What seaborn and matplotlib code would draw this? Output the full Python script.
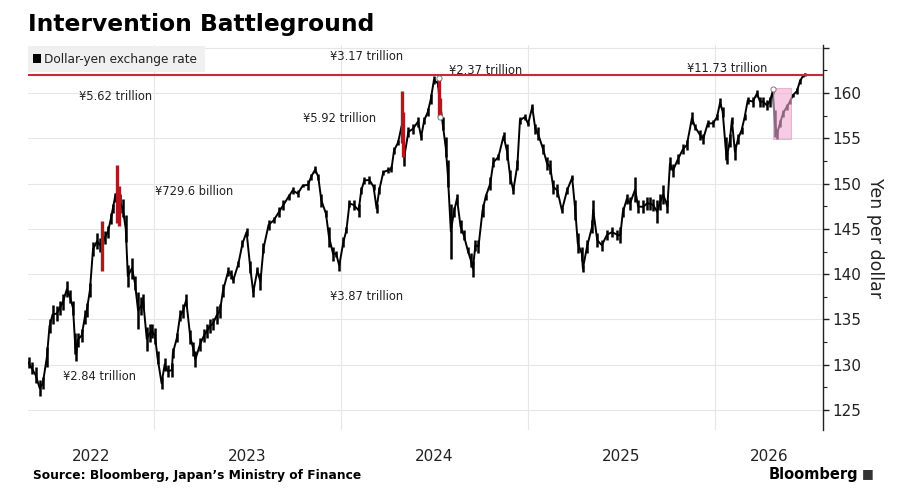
import matplotlib
matplotlib.use("Agg")
import matplotlib.pyplot as plt
import matplotlib.dates as mdates
from matplotlib.patches import Rectangle
from matplotlib.ticker import FixedLocator, FixedFormatter
import numpy as np
import pandas as pd
import seaborn as sns

# ---------------- data ----------------
dates = [
    "2022-05-01", "2022-05-07", "2022-05-15", "2022-05-23", "2022-05-29", "2022-06-06",
    "2022-06-11", "2022-06-17", "2022-06-25", "2022-07-01", "2022-07-07", "2022-07-15",
    "2022-07-21", "2022-07-27", "2022-07-31", "2022-08-02", "2022-08-05", "2022-08-13",
    "2022-08-19", "2022-08-23", "2022-08-29", "2022-09-04", "2022-09-12", "2022-09-17",
    "2022-09-22", "2022-09-27", "2022-10-03", "2022-10-09", "2022-10-13", "2022-10-17",
    "2022-10-21", "2022-10-27", "2022-11-01", "2022-11-07", "2022-11-11", "2022-11-19",
    "2022-11-25", "2022-12-01", "2022-12-07", "2022-12-11", "2022-12-18", "2022-12-24",
    "2022-12-28",
    "2023-01-03", "2023-01-08", "2023-01-16", "2023-01-22", "2023-01-28", "2023-02-05",
    "2023-02-07", "2023-02-15", "2023-02-21", "2023-02-27", "2023-03-05", "2023-03-13",
    "2023-03-19", "2023-03-23", "2023-04-01", "2023-04-09", "2023-04-15", "2023-04-20",
    "2023-04-26", "2023-05-04", "2023-05-10", "2023-05-16", "2023-05-26", "2023-06-01",
    "2023-06-05", "2023-06-15", "2023-06-23", "2023-07-01", "2023-07-08", "2023-07-14",
    "2023-07-22", "2023-07-28", "2023-08-03", "2023-08-13", "2023-08-23", "2023-09-02",
    "2023-09-11", "2023-09-21", "2023-09-29", "2023-10-09", "2023-10-19", "2023-10-29",
    "2023-11-04", "2023-11-12", "2023-11-18", "2023-11-24", "2023-12-03", "2023-12-09",
    "2023-12-17", "2023-12-23", "2023-12-29",
    "2024-01-06", "2024-01-12", "2024-01-18", "2024-01-26", "2024-02-05", "2024-02-10",
    "2024-02-16", "2024-02-26", "2024-03-05", "2024-03-11", "2024-03-16", "2024-03-24",
    "2024-04-03", "2024-04-09", "2024-04-14", "2024-04-22", "2024-04-29", "2024-05-04",
    "2024-05-12", "2024-05-21", "2024-05-31", "2024-06-06", "2024-06-12", "2024-06-19",
    "2024-06-25", "2024-07-01", "2024-07-09", "2024-07-11", "2024-07-18", "2024-07-24",
    "2024-07-28", "2024-08-03", "2024-08-09", "2024-08-15", "2024-08-22", "2024-08-28",
    "2024-09-05", "2024-09-11", "2024-09-15", "2024-09-20", "2024-09-26", "2024-10-04",
    "2024-10-10", "2024-10-19", "2024-10-25", "2024-11-04", "2024-11-14", "2024-11-21",
    "2024-11-27", "2024-12-03", "2024-12-11", "2024-12-16", "2024-12-26",
    "2025-01-01", "2025-01-09", "2025-01-15", "2025-01-20", "2025-01-30", "2025-02-07",
    "2025-02-13", "2025-02-19", "2025-02-27", "2025-03-08", "2025-03-18", "2025-03-28",
    "2025-04-03", "2025-04-08", "2025-04-16", "2025-04-18", "2025-04-26", "2025-05-06",
    "2025-05-08", "2025-05-16", "2025-05-25", "2025-06-04", "2025-06-14", "2025-06-24",
    "2025-06-30", "2025-07-05", "2025-07-13", "2025-07-19", "2025-07-29", "2025-08-04",
    "2025-08-14", "2025-08-21", "2025-08-27", "2025-09-02", "2025-09-10", "2025-09-16",
    "2025-09-22", "2025-09-30", "2025-10-05", "2025-10-11", "2025-10-21", "2025-10-31",
    "2025-11-07", "2025-11-17", "2025-11-23", "2025-12-03", "2025-12-09", "2025-12-18",
    "2025-12-28",
    "2026-01-05", "2026-01-11", "2026-01-16", "2026-01-22", "2026-01-24", "2026-01-30",
    "2026-02-03", "2026-02-09", "2026-02-15", "2026-02-22", "2026-02-28", "2026-03-06",
    "2026-03-16", "2026-03-24", "2026-03-30", "2026-04-05", "2026-04-12", "2026-04-18",
    "2026-04-24", "2026-04-28", "2026-05-02", "2026-05-08", "2026-05-14", "2026-05-21",
    "2026-05-27", "2026-06-02", "2026-06-10", "2026-06-16", "2026-06-22", "2026-06-26",
]
low = [
    129.6, 129.0, 128.0, 126.5, 127.3, 129.8, 133.5, 134.5, 134.8, 135.5, 136.0, 137.5,
    136.8, 135.5, 131.2, 130.4, 132.0, 132.5, 134.5, 135.3, 137.5, 142.0, 142.8, 142.5,
    141.0, 143.3, 144.0, 145.5, 146.8, 148.0, 146.5, 146.8, 146.3, 143.5, 138.6, 139.5,
    138.2, 134.0, 135.5, 136.3, 131.5, 132.5, 133.0,
    132.3, 130.1, 127.3, 129.3, 128.6, 128.6, 130.8, 132.5, 134.8, 135.2, 136.5, 132.3,
    131.0, 129.7, 131.5, 132.5, 133.0, 133.5, 133.8, 134.5, 135.2, 137.5, 139.8, 139.5,
    139.0, 140.8, 143.0, 144.2, 140.1, 137.5, 140.0, 138.2, 142.3, 144.9, 145.6, 146.3,
    147.1, 148.2, 148.9, 148.5, 149.6, 149.3, 150.4, 151.2, 150.4, 147.4, 146.3, 143.0,
    141.5, 141.9, 140.4,
    143.0, 144.5, 147.4, 147.1, 146.3, 148.9, 150.0, 150.0, 149.3, 146.7, 148.9, 151.0,
    151.2, 151.3, 153.3, 154.3, 154.8, 151.9, 155.1, 155.5, 156.3, 154.8, 156.6, 157.5,
    158.8, 161.0, 160.7, 158.5, 155.9, 152.9, 149.6, 141.7, 146.3, 147.8, 144.5, 143.8,
    142.3, 140.8, 139.7, 142.6, 142.3, 146.3, 148.2, 149.3, 151.8, 152.6, 154.8, 152.6,
    150.0, 148.9, 151.5, 156.6, 157.0,
    156.4, 158.1, 155.5, 154.8, 153.3, 151.5, 151.1, 148.9, 148.5, 146.7, 148.9, 150.4,
    146.0, 142.3, 141.5, 140.2, 142.3, 144.5, 146.0, 143.0, 142.6, 143.8, 144.1, 143.8,
    143.4, 146.3, 147.8, 147.1, 148.0, 146.7, 146.7, 147.1, 147.1, 147.0, 145.6, 147.1,
    147.8, 146.7, 151.5, 150.7, 152.2, 153.3, 153.7, 156.6, 155.9, 154.8, 154.4, 156.3,
    156.3,
    157.0, 158.5, 157.4, 152.6, 152.2, 154.0, 156.6, 152.6, 154.4, 155.5, 157.0, 158.8,
    158.5, 159.6, 158.5, 158.5, 158.1, 158.5, 159.9, 155.1, 154.9, 156.3, 157.4, 158.1,
    158.8, 159.6, 159.9, 161.0, 161.8, 161.9,
]
high = [
    130.9, 130.3, 129.7, 128.3, 128.6, 132.0, 135.0, 136.6, 136.5, 137.0, 137.8, 139.2,
    138.2, 137.0, 133.5, 132.0, 133.5, 134.0, 136.0, 136.8, 139.0, 143.5, 144.5, 144.0,
    145.5, 144.8, 145.3, 146.8, 147.8, 149.0, 151.5, 148.8, 148.3, 146.5, 141.0, 141.8,
    139.8, 138.0, 137.5, 137.8, 134.2, 134.5, 134.5,
    134.1, 131.5, 128.6, 130.8, 130.0, 130.2, 131.8, 133.5, 136.0, 136.7, 137.8, 133.8,
    132.5, 131.5, 133.0, 134.0, 134.5, 135.0, 135.2, 136.5, 136.7, 138.9, 140.8, 140.5,
    139.7, 141.5, 143.8, 145.1, 141.5, 138.5, 140.8, 140.1, 143.4, 146.0, 146.3, 147.4,
    148.2, 148.9, 149.6, 149.3, 150.0, 150.4, 151.1, 151.9, 151.1, 148.9, 147.1, 145.2,
    143.0, 142.6, 141.5,
    144.1, 145.2, 148.2, 148.2, 147.8, 149.6, 150.7, 150.8, 150.0, 147.8, 149.6, 151.5,
    151.8, 151.9, 154.0, 154.8, 158.0, 154.0, 156.3, 156.6, 157.4, 155.5, 157.4, 158.3,
    159.9, 161.9, 161.4, 161.0, 157.4, 155.1, 152.6, 147.8, 147.4, 148.9, 146.0, 144.9,
    143.0, 142.3, 141.5, 143.8, 143.8, 147.8, 148.9, 150.7, 152.9, 153.3, 155.7, 154.4,
    151.5, 149.6, 152.6, 157.4, 157.7,
    156.8, 158.8, 156.6, 156.3, 154.4, 152.9, 152.6, 150.4, 150.0, 147.4, 149.6, 150.9,
    148.2, 144.5, 143.0, 141.0, 143.8, 146.0, 148.2, 144.5, 143.8, 144.9, 145.2, 144.9,
    145.2, 147.4, 148.9, 148.5, 150.7, 148.2, 148.2, 148.5, 148.5, 148.3, 148.2, 148.9,
    149.8, 148.2, 152.9, 152.2, 153.3, 154.4, 154.8, 157.9, 156.6, 155.9, 155.5, 157.0,
    157.0,
    157.7, 159.4, 158.5, 155.1, 153.5, 155.5, 157.4, 154.4, 155.5, 156.3, 157.7, 159.6,
    159.6, 160.3, 159.6, 159.6, 159.2, 159.6, 160.5, 158.1, 156.0, 157.0, 158.1, 158.8,
    159.2, 159.9, 160.5, 161.6, 162.0, 162.2,
]

# Intervention days (highlighted in red)
interv_dates = ["2022-09-22", "2022-10-21", "2022-10-24", "2024-04-29", "2024-05-01",
                "2024-07-11", "2024-07-12"]
interv_low = [140.4, 145.6, 145.3, 154.5, 152.9, 157.4, 157.2]
interv_high = [145.9, 152.0, 149.7, 160.2, 157.9, 161.8, 159.4]

# small hollow markers at intervention tips
mark_dates = ["2024-07-11", "2024-07-13", "2026-04-24"]
mark_price = [161.7, 157.4, 160.4]

# Intervention amount labels: (text, anchor date, price level)
ann_text = ["¥5.62 trillion", "¥729.6 billion", "¥2.84 trillion", "¥3.17 trillion",
            "¥2.37 trillion", "¥5.92 trillion", "¥3.87 trillion", "¥11.73 trillion"]
ann_date = ["2022-08-08", "2023-01-03", "2022-07-07", "2023-12-10",
            "2024-07-30", "2023-10-19", "2023-12-10", "2025-11-08"]
ann_price = [159.6, 149.1, 128.7, 164.0, 162.5, 157.2, 137.5, 162.75]

record_level = 162.0
box_dates = ["2026-04-24", "2026-05-29"]
box_prices = [154.9, 160.6]

year_labels = ["2022", "2023", "2024", "2025", "2026"]
y_ticks = [125, 130, 135, 140, 145, 150, 155, 160, 165]
x_range = ["2022-04-30", "2026-07-31"]
y_range = [122.8, 165.3]

# ---------------- figure ----------------
sns.set_theme(style="white")
plt.rcParams["font.family"] = ["DejaVu Sans"]

df = pd.DataFrame({"date": pd.to_datetime(dates), "low": low, "high": high})
df["mid"] = (df["low"] + df["high"]) / 2
iv = pd.DataFrame({"date": pd.to_datetime(interv_dates), "low": interv_low, "high": interv_high})
mk = pd.DataFrame({"date": pd.to_datetime(mark_dates), "price": mark_price})

fig = plt.figure(figsize=(9, 5), dpi=100)
ax = fig.add_axes([28 / 900, 1 - 430 / 500, (823 - 28) / 900, (430 - 45) / 500])

grid_c = "#e6e6e6"
for yv in y_ticks:
    ax.axhline(yv, color=grid_c, lw=0.8, zorder=0)
for yr in [2023, 2024, 2025, 2026]:
    ax.axvline(pd.Timestamp(f"{yr}-01-01"), color=grid_c, lw=0.8, zorder=0)

# price path
ax.vlines(df["date"], df["low"], df["high"], color="black", lw=1.8, zorder=2)
sns.lineplot(data=df, x="date", y="mid", ax=ax, color="black", lw=1.4, zorder=2)
ax.vlines(iv["date"], iv["low"], iv["high"], color="#b3161d", lw=2.4, zorder=3)

ax.axhline(record_level, color="#c62a35", lw=1.5, zorder=4)
sns.scatterplot(data=mk, x="date", y="price", ax=ax, s=14, color="white",
                edgecolor="#666666", linewidth=0.6, zorder=6, legend=False)

bx0 = mdates.date2num(pd.Timestamp(box_dates[0]))
bx1 = mdates.date2num(pd.Timestamp(box_dates[1]))
ax.add_patch(Rectangle((bx0, box_prices[0]), bx1 - bx0, box_prices[1] - box_prices[0],
                       facecolor="#f2a9d2", edgecolor="#e58cc0", lw=0.8, alpha=0.6, zorder=5))

for t, d, p in zip(ann_text, ann_date, ann_price):
    ax.text(pd.Timestamp(d), p, t, fontsize=8.3, color="#222222", ha="left", va="center", zorder=7)

ax.set_xlim(pd.Timestamp(x_range[0]), pd.Timestamp(x_range[1]))
ax.set_ylim(*y_range)

# y axis on the right
ax.yaxis.tick_right()
ax.yaxis.set_label_position("right")
ax.set_yticks(y_ticks)
ax.set_yticklabels([str(v) if v < 165 else "" for v in y_ticks])
ax.yaxis.set_minor_locator(FixedLocator([v + 2.5 for v in y_ticks]))
ax.tick_params(axis="y", which="major", direction="out", length=4, width=1, color="#222222",
               labelsize=11, labelcolor="#222222", pad=3, right=True, left=False)
ax.tick_params(axis="y", which="minor", direction="out", length=3, width=0.8, color="#222222",
               right=True, left=False)
ax.set_ylabel("Yen per dollar", fontsize=12.5, color="#222222", rotation=270, labelpad=16)
ax.set_xlabel("")

# x axis: year labels centred on visible part of each year
xl0, xl1 = ax.get_xlim()
bounds = [xl0] + [mdates.date2num(pd.Timestamp(f"{y}-01-01")) for y in (2023, 2024, 2025, 2026)] + [xl1]
centers = [(bounds[i] + bounds[i + 1]) / 2 for i in range(len(year_labels))]
ax.xaxis.set_major_locator(FixedLocator([]))
ax.xaxis.set_minor_locator(FixedLocator(centers))
ax.xaxis.set_minor_formatter(FixedFormatter(year_labels))
ax.tick_params(axis="x", which="minor", length=0, labelsize=11, labelcolor="#222222", pad=14)

for s in ["left", "top", "bottom"]:
    ax.spines[s].set_visible(False)
ax.spines["right"].set_color("#222222")
ax.spines["right"].set_linewidth(1.0)

# legend box
fig.patches.append(Rectangle((28 / 900, 1 - 72 / 500), 177 / 900, 26 / 500,
                             transform=fig.transFigure, facecolor="#f0f0f0", edgecolor="none", zorder=5))
fig.patches.append(Rectangle((33 / 900, 1 - 63 / 500), 8 / 900, 9 / 500,
                             transform=fig.transFigure, facecolor="black", edgecolor="none", zorder=6))
fig.text(44 / 900, 1 - 59 / 500, "Dollar-yen exchange rate", fontsize=8.7, color="#222222",
         va="center", ha="left", zorder=7)

# titles and footer
fig.text(28 / 900, 1 - 24 / 500, "Intervention Battleground", fontsize=16.8, weight="bold",
         va="center", ha="left", color="black")
fig.text(33 / 900, 1 - 476 / 500, "Source: Bloomberg, Japan’s Ministry of Finance", fontsize=8.8,
         weight="bold", va="center", ha="left", color="black")
fig.text(858 / 900, 1 - 474 / 500, "Bloomberg", fontsize=10.5, weight="bold", va="center",
         ha="right", color="black")
fig.text(874 / 900, 1 - 474 / 500, "■", fontsize=9, va="center", ha="right", color="#333333")

fig.savefig("out.png", dpi=100)
